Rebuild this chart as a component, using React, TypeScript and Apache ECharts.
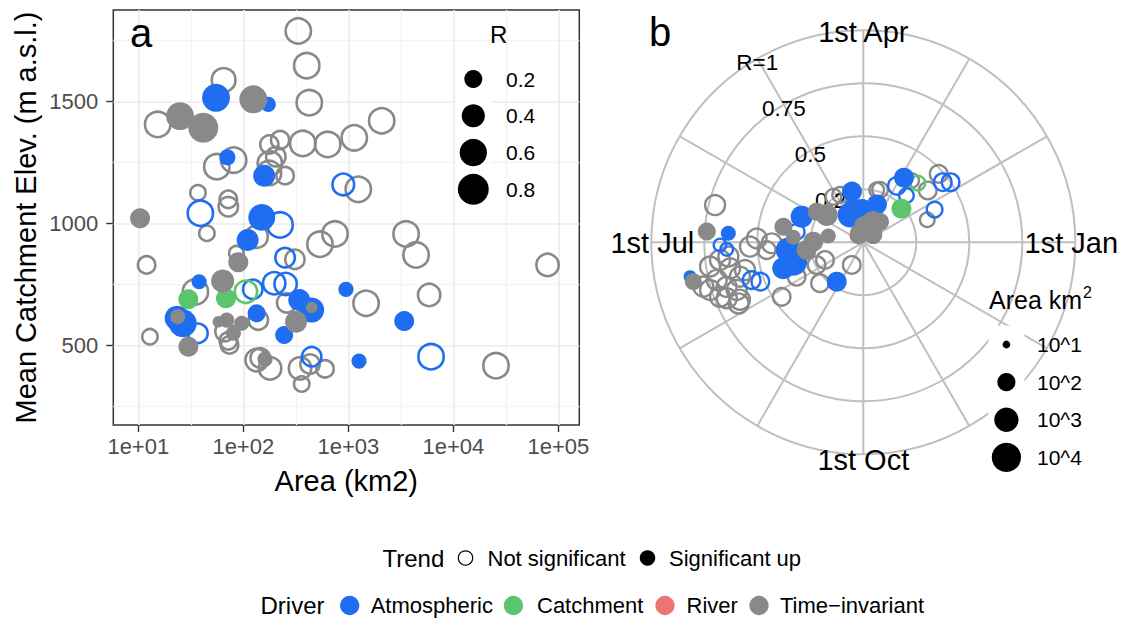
import React, { useEffect, useRef } from 'react';
import * as echarts from 'echarts';

// ---------------- Panel a data: [area km2, mean catchment elevation m, R] ----------------
const aTimeInvOpen: number[][] = [
  [334, 1790, 0.63], [402, 1648, 0.63], [425, 1496, 0.63], [65, 1589, 0.55], [15.3, 1407, 0.63],
  [177, 1325, 0.3], [224, 1343, 0.3], [368, 1329, 0.63], [637, 1325, 0.63], [1140, 1352, 0.63],
  [2080, 1422, 0.63], [56, 1234, 0.63], [81, 1261, 0.63], [179, 1247, 0.58], [204, 1275, 0.35],
  [250, 1197, 0.27], [176, 1208, 0.58], [1245, 1141, 0.63], [37, 1127, 0.2], [72, 1100, 0.27],
  [72, 1070, 0.35], [45, 961, 0.2], [134, 947, 0.48], [747, 958, 0.63], [537, 916, 0.63],
  [12, 831, 0.27], [86, 879, 0.17], [310, 854, 0.35], [3550, 958, 0.63], [4420, 872, 0.63],
  [79000, 831, 0.48], [35, 721, 0.63], [259, 676, 0.35], [1476, 674, 0.63], [5890, 708, 0.48],
  [25500, 418, 0.63], [12.9, 537, 0.2], [67, 558, 0.35], [72, 520, 0.27], [74, 503, 0.27],
  [139, 605, 0.35], [134, 441, 0.48], [145, 450, 0.35], [180, 407, 0.48], [347, 407, 0.48],
  [432, 425, 0.35], [600, 405, 0.27], [360, 343, 0.2],
];
const aTimeInvSig: number[][] = [
  [124.5, 1510, 0.63], [25, 1441, 0.63], [41.6, 1393, 0.74], [10.4, 1022, 0.27], [89.6, 842, 0.27],
  [63.6, 765, 0.4], [448, 657, 0.02], [23.7, 619, 0.11], [30, 496, 0.27], [69.5, 605, 0.11],
  [96.6, 592, 0.11], [80.4, 551, 0.11], [57.8, 598, 0.02], [318, 598, 0.35], [161, 445, 0.11],
];
const aAtmOpen: number[][] = [
  [896, 1161, 0.45], [39, 1043, 0.63], [224, 995, 0.63], [250, 861, 0.35], [123, 731, 0.35],
  [197, 756, 0.48], [253, 753, 0.48], [6140, 455, 0.63], [37, 551, 0.35], [448, 455, 0.35],
];
const aAtmSig: number[][] = [
  [55, 1516, 0.63], [173, 1489, 0.11], [70.5, 1272, 0.14], [158, 1197, 0.35], [150, 1026, 0.58],
  [110, 933, 0.35], [38, 762, 0.11], [341, 687, 0.35], [448, 646, 0.48], [950, 731, 0.11],
  [3410, 601, 0.27], [1265, 437, 0.11], [26.5, 592, 0.63], [23.4, 613, 0.48], [134, 633, 0.2],
  [245, 544, 0.2],
];
const aCatOpen: number[][] = [[106, 721, 0.48]];
const aCatSig: number[][] = [[30, 690, 0.27], [68.4, 694, 0.27]];

// ---------------- Panel b data: [R, day of year, area km2] ----------------
const bTimeInvOpen: number[][] = [
  [0.48, 42.8, 190], [0.39, 39.3, 190], [0.32, 19.7, 72], [0.26, 73.3, 100], [0.37, 52.7, 72],
  [0.257, 125, 100], [0.255, 76.7, 72], [0.249, 117.6, 100], [0.12, 246.4, 190], [0.199, 207.6, 190],
  [0.281, 226.5, 190], [0.245, 208.8, 190], [0.354, 210.2, 190], [0.463, 216.7, 190], [0.503, 180.4, 400],
  [0.432, 183.1, 400], [0.457, 187.2, 190], [0.535, 184.7, 450], [0.721, 168.2, 450], [0.732, 191.6, 450],
  [0.681, 189.6, 450], [0.64, 188.6, 450], [0.64, 193.7, 450], [0.714, 197.1, 450], [0.678, 200.8, 450],
  [0.638, 203.4, 450], [0.757, 200, 450], [0.783, 198.2, 450], [0.604, 198.3, 450], [0.573, 195.9, 450],
  [0.642, 207.8, 450], [0.696, 205.1, 450], [0.723, 203.6, 450], [0.655, 209, 450],
];
const bTimeInvSig: number[][] = [
  [0.08, 91, 100], [0.115, 66.7, 100], [0.04, 126, 100], [0.063, 42.6, 100], [0.215, 145.3, 400],
  [0.263, 148.7, 100], [0.105, 68.7, 190], [0.058, 36.5, 100], [0.384, 171.3, 100], [0.168, 172, 42],
  [0.236, 181.8, 190], [0.27, 190.3, 190], [0.331, 178.3, 42], [0.74, 178.5, 100], [0.823, 195.7, 72],
  [0.125, 51.7, 100], [0.045, 111.5, 190],
];
const bAtmOpen: number[][] = [
  [0.31, 60, 190], [0.3, 48, 72], [0.5, 35, 190], [0.47, 37.6, 190], [0.37, 25, 100],
  [0.52, 203.7, 190], [0.556, 201.5, 190], [0.676, 183.6, 42], [0.645, 185.5, 42], [0.318, 173.4, 100],
];
const bAtmSig: number[][] = [
  [0.36, 58.6, 190], [0.19, 71.2, 190], [0.245, 104, 190], [0.16, 108.5, 400], [0.143, 117.6, 1350],
  [0.153, 94, 400], [0.315, 159.6, 400], [0.356, 188.5, 1350], [0.343, 198.2, 5400], [0.397, 200.7, 400],
  [0.224, 239.3, 190], [0.638, 178.6, 42], [0.833, 193.9, 26],
];
const bCatOpen: number[][] = [[0.38, 48, 72]];
const bCatSig: number[][] = [[0.24, 42, 190]];

// ---------------- Ticks / labels ----------------
const xTickValues = [10, 100, 1000, 10000, 100000];
const xMinorValues = [31.623, 316.23, 3162.3, 31623];
const yTickValues = [500, 1000, 1500];
const yMinorValues = [250, 750, 1250, 1750];
const rLegendValues = [0.2, 0.4, 0.6, 0.8];
const areaLegendValues = [10, 100, 1000, 10000];
const areaLegendLabels = ['10^1', '10^2', '10^3', '10^4'];
const radiusTickValues = [0.25, 0.5, 0.75, 1];
const radiusTickLabels = ['0.25', '0.5', '0.75', 'R=1'];
const monthDays = [0, 91.25, 182.5, 273.75];
const monthLabels = ['1st Jan', '1st Apr', '1st Jul', '1st Oct'];
const trendLabels = ['Not significant', 'Significant up'];
const driverLabels = ['Atmospheric', 'Catchment', 'River', 'Time\u2212invariant'];

const FONT = '"Liberation Sans", Arial, Helvetica, sans-serif';
const BLUE = '#1f6ef2';
const GREEN = '#5cc46c';
const RED = '#ec7474';
const GREY = '#898989';
const driverColors = [BLUE, GREEN, RED, GREY];
const RING_A = 2.6;
const RING_B = 2.4;

const sizeA = (r: number) => Math.sqrt(112 + 1062 * r);
const sizeB = (area: number) => Math.sqrt(Math.max(30, 60 + 265 * (Math.log10(area) - 1)));

function scatterA(data: number[][], color: string, open: boolean) {
  return {
    type: 'scatter', xAxisIndex: 0, yAxisIndex: 0, data, silent: true, symbol: 'circle',
    symbolSize: (v: number[]) => (open ? sizeA(v[2]) - RING_A : sizeA(v[2])),
    itemStyle: open
      ? { color: 'rgba(255,255,255,0)', borderColor: color, borderWidth: RING_A, opacity: 1 }
      : { color, borderWidth: 0, opacity: 1 },
    emphasis: { disabled: true }, z: 3, clip: false,
  };
}
function scatterB(data: number[][], color: string, open: boolean) {
  return {
    type: 'scatter', coordinateSystem: 'polar', polarIndex: 0, data, silent: true, symbol: 'circle',
    symbolSize: (v: number[]) => (open ? sizeB(v[2]) - RING_B : sizeB(v[2])),
    itemStyle: open
      ? { color: 'rgba(255,255,255,0)', borderColor: color, borderWidth: RING_B, opacity: 1 }
      : { color, borderWidth: 0, opacity: 1 },
    emphasis: { disabled: true }, z: 3,
  };
}

function txt(text: string, x: number, y: number, size: number, align = 'left', extra: any = {}) {
  return {
    type: 'text', x, y, silent: true, z: 5, ...extra,
    style: {
      text, font: `${size}px ${FONT}`, fill: extra.fill || '#000000',
      textAlign: align, align, textVerticalAlign: 'middle', verticalAlign: 'middle',
    },
  };
}
function dot(cx: number, cy: number, d: number, fill: string, stroke?: string, lw = 0) {
  return {
    type: 'circle', silent: true, z: 5,
    shape: { cx, cy, r: d / 2 },
    style: { fill, stroke: stroke || null, lineWidth: lw },
  };
}
function measure(text: string, size: number): number {
  try {
    const ctx = document.createElement('canvas').getContext('2d');
    if (ctx) {
      ctx.font = `${size}px ${FONT}`;
      return ctx.measureText(text).width;
    }
  } catch (e) {
    /* ignore */
  }
  return text.length * size * 0.53;
}

const gridLine = { color: '#ebebeb', width: 1.7 };
const minorLine = { color: '#f3f3f3', width: 1.3 };
const tickStyle = { color: '#333333', width: 1.4 };
const polarLine = { color: '#bfbfbf', width: 2 };

function buildOption() {
  const xMin = Math.pow(10, 0.762);
  const xMax = Math.pow(10, 5.2);
  const yMin = 175;
  const yMax = 1876;
  return {
    animation: false,
    backgroundColor: '#ffffff',
    textStyle: { fontFamily: FONT },
    grid: { left: 113.3, top: 10, width: 466, height: 415, show: true, borderColor: '#333333', borderWidth: 1.5, backgroundColor: 'transparent', containLabel: false },
    xAxis: [
      {
        type: 'log', logBase: 10, gridIndex: 0, min: xMin, max: xMax, position: 'bottom',
        axisLine: { show: false },
        axisTick: { show: true, length: 7, lineStyle: tickStyle, customValues: xTickValues },
        axisLabel: {
          customValues: xTickValues, fontSize: 22, color: '#4d4d4d', margin: 10, fontFamily: FONT,
          formatter: (v: number) => '1e+' + String(Math.round(Math.log10(v))).padStart(2, '0'),
        },
        splitLine: { show: true, lineStyle: gridLine },
        minorTick: { show: false }, minorSplitLine: { show: false },
        z: 1,
      },
      {
        type: 'log', logBase: 10, gridIndex: 0, min: xMin, max: xMax, position: 'top',
        axisLine: { show: false },
        axisTick: { show: false, customValues: xMinorValues },
        axisLabel: { show: false, customValues: xMinorValues },
        splitLine: { show: true, lineStyle: minorLine },
        z: 0,
      },
    ],
    yAxis: [
      {
        type: 'value', gridIndex: 0, min: yMin, max: yMax, position: 'left',
        axisLine: { show: false },
        axisTick: { show: true, length: 7, lineStyle: tickStyle, customValues: yTickValues },
        axisLabel: {
          customValues: yTickValues, fontSize: 22, color: '#4d4d4d', margin: 15, fontFamily: FONT,
          formatter: (v: number) => String(Math.round(v)),
        },
        splitLine: { show: true, lineStyle: gridLine },
        z: 1,
      },
      {
        type: 'value', gridIndex: 0, min: yMin, max: yMax, position: 'right',
        axisLine: { show: false },
        axisTick: { show: false, customValues: yMinorValues },
        axisLabel: { show: false, customValues: yMinorValues },
        splitLine: { show: true, lineStyle: minorLine },
        z: 0,
      },
    ],
    polar: { center: [863.3, 242.3], radius: 212 },
    angleAxis: {
      type: 'value', polarIndex: 0, min: 0, max: 365, interval: 365 / 12, startAngle: 0, clockwise: false,
      axisLine: { show: false }, axisTick: { show: false }, axisLabel: { show: false },
      splitLine: { show: true, lineStyle: polarLine },
    },
    radiusAxis: {
      type: 'value', polarIndex: 0, min: 0, max: 1, interval: 0.25,
      axisLine: { show: false }, axisTick: { show: false }, axisLabel: { show: false },
      splitLine: { show: true, lineStyle: polarLine },
    },
    series: [
      scatterA(aTimeInvOpen, GREY, true),
      scatterA(aAtmOpen, BLUE, true),
      scatterA(aCatOpen, GREEN, true),
      scatterA(aAtmSig, BLUE, false),
      scatterA(aCatSig, GREEN, false),
      scatterA(aTimeInvSig, GREY, false),
      scatterB(bTimeInvOpen, GREY, true),
      scatterB(bAtmOpen, BLUE, true),
      scatterB(bCatOpen, GREEN, true),
      scatterB(bAtmSig, BLUE, false),
      scatterB(bCatSig, GREEN, false),
      scatterB(bTimeInvSig, GREY, false),
    ],
  };
}

function staticGraphics(): any[] {
  const g: any[] = [];
  // panel letters
  g.push(txt('a', 130, 33, 40));
  g.push(txt('b', 649, 32, 40));
  // axis titles
  g.push(txt('Area (km2)', 346.3, 481, 29, 'center'));
  g.push(txt('Mean Catchment Elev. (m a.s.l.)', 26, 217.5, 29, 'center', { rotation: Math.PI / 2 }));

  // R size legend (panel a)
  const rStep = 36.77;
  g.push({ type: 'rect', silent: true, z: 4, shape: { x: 455, y: 79 - rStep / 2, width: 36.6, height: rStep * 4 }, style: { fill: '#ffffff' } });
  g.push(txt('R', 490, 34, 24));
  rLegendValues.forEach((r, i) => {
    g.push(dot(473.3, 79 + i * rStep, sizeA(r), '#000000'));
    g.push(txt(String(r), 506, 79 + i * rStep, 21));
  });

  // Area size legend (panel b)
  const aStep = 37.63;
  g.push({ type: 'rect', silent: true, z: 4, shape: { x: 988.4, y: 344.5 - aStep / 2, width: 36, height: aStep * 4 }, style: { fill: '#ffffff' } });
  const areaTitle = 'Area km';
  g.push(txt(areaTitle, 989, 300, 25));
  g.push(txt('2', 989 + measure(areaTitle, 25) + 1, 292, 16));
  areaLegendValues.forEach((a, i) => {
    g.push(dot(1006.4, 344.5 + i * aStep, sizeB(a), '#000000'));
    g.push(txt(areaLegendLabels[i], 1037, 344.5 + i * aStep, 21));
  });

  // bottom legend: Trend
  const row1 = 558;
  g.push(txt('Trend', 382.5, row1, 24));
  g.push(dot(465.5, row1, 14.3, '#ffffff', '#000000', 1.2));
  g.push(txt(trendLabels[0], 487.5, row1, 22));
  g.push(dot(647.5, row1, 15.5, '#000000'));
  g.push(txt(trendLabels[1], 669, row1, 22));

  // bottom legend: Driver
  const row2 = 605.5;
  g.push(txt('Driver', 260.5, row2, 24));
  const dotX = [349.7, 513.4, 665, 759];
  const textX = [370.7, 537, 686.5, 780];
  driverLabels.forEach((d, i) => {
    g.push(dot(dotX[i], row2, 19.3, driverColors[i]));
    g.push(txt(d, textX[i], row2, 22));
  });
  return g;
}

// small nudges of the month labels relative to the outer ring
const monthDx = [-4, 0, 1, 0];
const monthDy = [1, 2, 1, 6];

export default function App() {
  const ref = useRef<HTMLDivElement>(null);
  useEffect(() => {
    if (!ref.current) return;
    const chart = echarts.init(ref.current, null, { renderer: 'svg' });
    chart.setOption(buildOption() as any);

    const polarSeriesIndex = 6;
    const cx = 863.3, cy = 242.3, R = 212;
    const toPx = (r: number, day: number): number[] => {
      let p: any = null;
      try {
        p = chart.convertToPixel({ seriesIndex: polarSeriesIndex } as any, [r, day]);
      } catch (e) {
        p = null;
      }
      if (!p || isNaN(p[0])) {
        const ang = (day / 365) * Math.PI * 2;
        p = [cx + r * R * Math.cos(ang), cy - r * R * Math.sin(ang)];
      }
      return p as number[];
    };

    const g = staticGraphics();
    monthDays.forEach((d, i) => {
      const p = toPx(1, d);
      g.push({ ...txt(monthLabels[i], p[0] + monthDx[i], p[1] + monthDy[i], 29, 'center'), z: 1 });
    });
    radiusTickValues.forEach((r, i) => {
      const p = toPx(r, 365 / 3);
      g.push({ ...txt(radiusTickLabels[i], p[0], p[1] + 4, 22.5, 'center'), z: 1 });
    });
    chart.setOption({ graphic: { elements: g } } as any);

    return () => chart.dispose();
  }, []);
  return (
    <div
      ref={ref}
      style={{ position: 'fixed', left: 0, top: 0, width: 1126, height: 623, background: '#ffffff' }}
    />
  );
}
